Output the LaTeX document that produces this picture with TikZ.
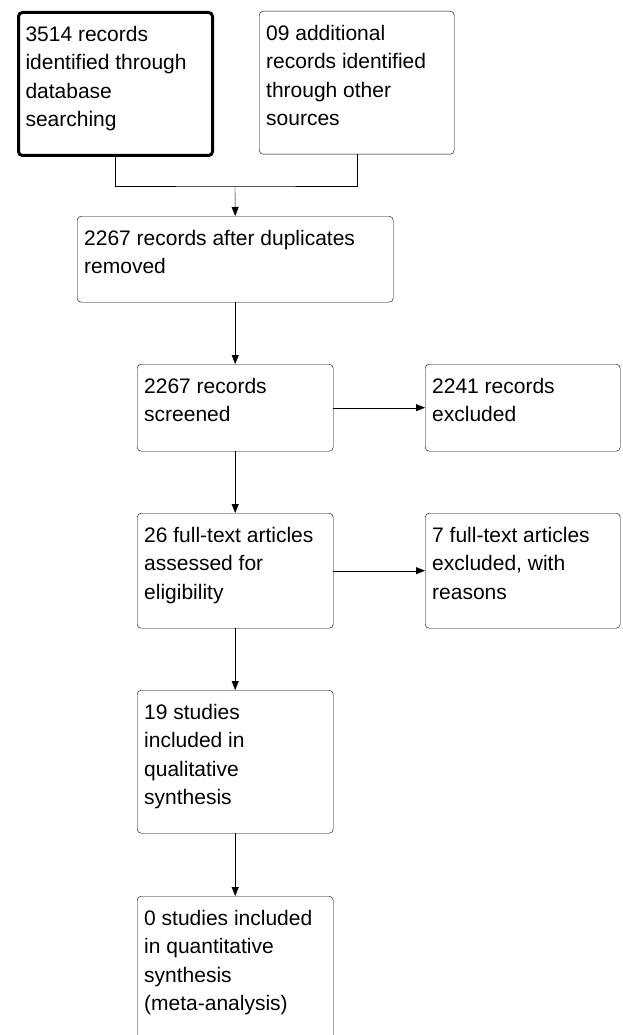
\documentclass[tikz,border=0pt]{standalone}
\usepackage{fontspec}
\setmainfont{Liberation Sans}
\usetikzlibrary{arrows.meta}
\tikzset{
	->,
	>={Triangle[length=9pt,width=7pt]},
	line width=1.6pt,
}
\newcommand{\boxtext}[3]{\parbox[c][#2][t]{#1}{\raggedright\rule{0pt}{29pt}#3}}

\begin{document}
\begin{tikzpicture}[
            x=1pt,
            y=-1pt,
            flow/.style={draw, -, rounded corners=4pt, inner xsep=7pt, inner ysep=0pt,
                anchor=north west, font=\fontsize{21}{28.5}\selectfont},
            heavy/.style={flow, line width=3pt}
        ]
        \useasboundingbox (0,0) rectangle (622,1035);
        \clip (0,0) rectangle (622,1035);
        \node[heavy] (ident) at (17,11) {\boxtext{180pt}{143pt}{3514 records\\identified through\\database\\searching}};
        \node[flow] (other) at (259,11) {\boxtext{181pt}{143pt}{09 additional\\records identified\\through other\\sources}};
        \node[flow] (dedup) at (77,216) {\boxtext{302pt}{86pt}{2267 records after duplicates\\removed}};
        \node[flow] (screen) at (137,364) {\boxtext{182pt}{87pt}{2267 records\\screened}};
        \node[flow] (excl) at (425,364) {\boxtext{181pt}{87pt}{2241 records\\excluded}};
        \node[flow] (full) at (137,513) {\boxtext{182pt}{115pt}{26 full-text articles\\assessed for\\eligibility}};
        \node[flow] (fullexcl) at (425,513) {\boxtext{181pt}{115pt}{7 full-text articles\\excluded, with\\reasons}};
        \node[flow] (qual) at (137,690) {\boxtext{182pt}{143pt}{19 studies\\included in\\qualitative\\synthesis}};
        \node[flow] (quant) at (137,896) {\boxtext{182pt}{170pt}{0 studies included\\in quantitative\\synthesis\\(meta-analysis)}};
        \coordinate (merge) at (235,186);
        \draw[-] (ident.south) |- (merge) -| (other.south);
        \draw (merge) -- (dedup.north);
        \draw (dedup.south) -- (screen.north);
        \draw (screen.east) -- (excl.west);
        \draw (screen.south) -- (full.north);
        \draw (full.east) -- (fullexcl.west);
        \draw (full.south) -- (qual.north);
        \draw (qual.south) -- (quant.north);
    \end{tikzpicture}
\end{document}
